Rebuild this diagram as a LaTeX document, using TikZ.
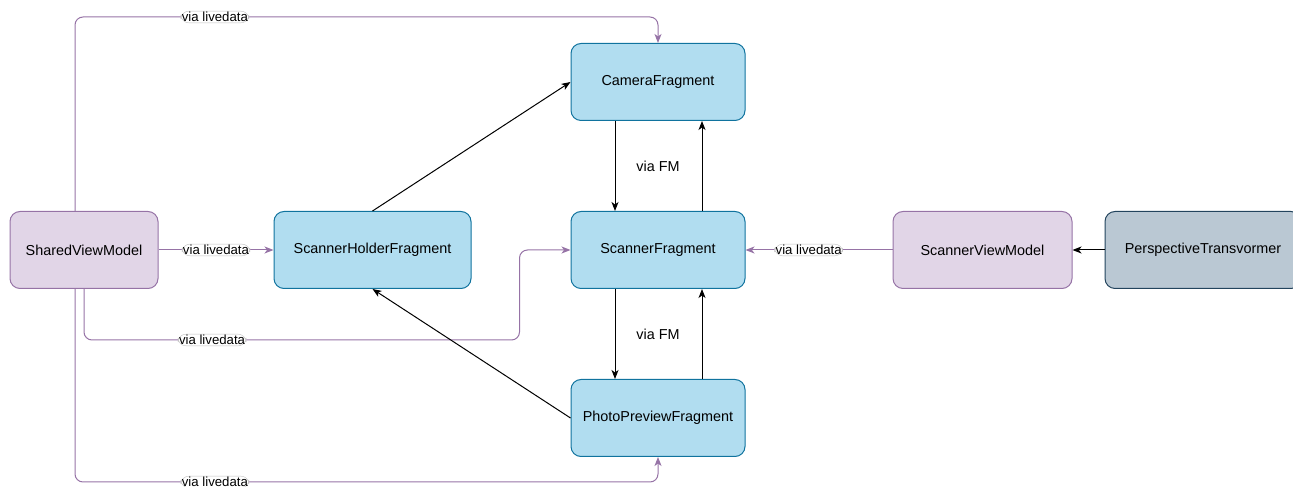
\documentclass[tikz,border=0pt]{standalone}
\usepackage{fontspec}
\setmainfont{Liberation Sans}
\usetikzlibrary{arrows.meta,positioning}
\definecolor{fragfill}{HTML}{B1DDF0}
\definecolor{fragdraw}{HTML}{10739E}
\definecolor{modelfill}{HTML}{E1D5E7}
\definecolor{modeldraw}{HTML}{9673A6}
\definecolor{helperfill}{HTML}{BAC8D3}
\definecolor{helperdraw}{HTML}{23445D}
\tikzstyle{block} = [rectangle, draw=fragdraw, fill=fragfill, line width=1pt, rounded corners=10pt, minimum width=174pt, minimum height=77pt, font=\fontsize{14.4}{17}\selectfont]
\tikzstyle{model} = [block, draw=modeldraw, fill=modelfill]
\tikzstyle{helper} = [block, draw=helperdraw, fill=helperfill]
\tikzstyle{line} = [draw, line width=1pt, -{Stealth[length=9pt,width=7pt,inset=2.5pt]}]
\tikzstyle{live} = [line, draw=modeldraw, rounded corners=8pt]
\tikzstyle{tag} = [fill=white, draw=black!25, line width=0.4pt, inner sep=1pt, font=\fontsize{13.2}{15}\selectfont]
\tikzstyle{note} = [font=\fontsize{14.4}{17}\selectfont]

\begin{document}
\begin{tikzpicture} [x=1pt, y=1pt, node distance=168pt]
\useasboundingbox (0,0) rectangle (1293,487);
% Place nodes
\node [model, minimum width=148pt] (svm) at (84,237) {SharedViewModel};
\node [block, minimum width=197pt] (holder) at (372.5,237) {ScannerHolderFragment};
\node [block] (scanner) at (658,237) {ScannerFragment};
\node [block, above of=scanner] (camera) {CameraFragment};
\node [block, below of=scanner] (photo) {PhotoPreviewFragment};
\node [model, minimum width=179pt] (scvm) at (982.5,237) {ScannerViewModel};
\node [helper, minimum width=196pt] (pt) at (1203,237) {PerspectiveTransvormer};
% Draw livedata edges
\path [live] ([xshift=-9pt]svm.north) |- node[tag, pos=0.62] {via livedata} ([yshift=26pt]camera.north) -- (camera.north);
\path [live] (svm) -- node[tag] {via livedata} (holder);
\path [live] (svm.south) |- node[tag, pos=0.647] {via livedata} ([xshift=-51pt, yshift=-90pt]scanner.west) |- (scanner.west);
\path [live] ([xshift=-9pt]svm.south) |- node[tag, pos=0.62] {via livedata} ([yshift=-25pt]photo.south) -- (photo.south);
\path [live] (scvm) -- node[tag, pos=0.57] {via livedata} (scanner);
% Draw fragment edges
\path [line] (holder.north) -- (camera.west);
\path [line] (photo.west) -- (holder.south);
\path [line] ([xshift=-43pt]camera.south) -- node[note, xshift=43pt] {via FM} ([xshift=-43pt]scanner.north);
\path [line] ([xshift=44pt]scanner.north) -- ([xshift=44pt]camera.south);
\path [line] ([xshift=-43pt]scanner.south) -- node[note, xshift=43pt] {via FM} ([xshift=-43pt]photo.north);
\path [line] ([xshift=44pt]photo.north) -- ([xshift=44pt]scanner.south);
\path [line] (pt) -- (scvm);

\end{tikzpicture}
\end{document}
